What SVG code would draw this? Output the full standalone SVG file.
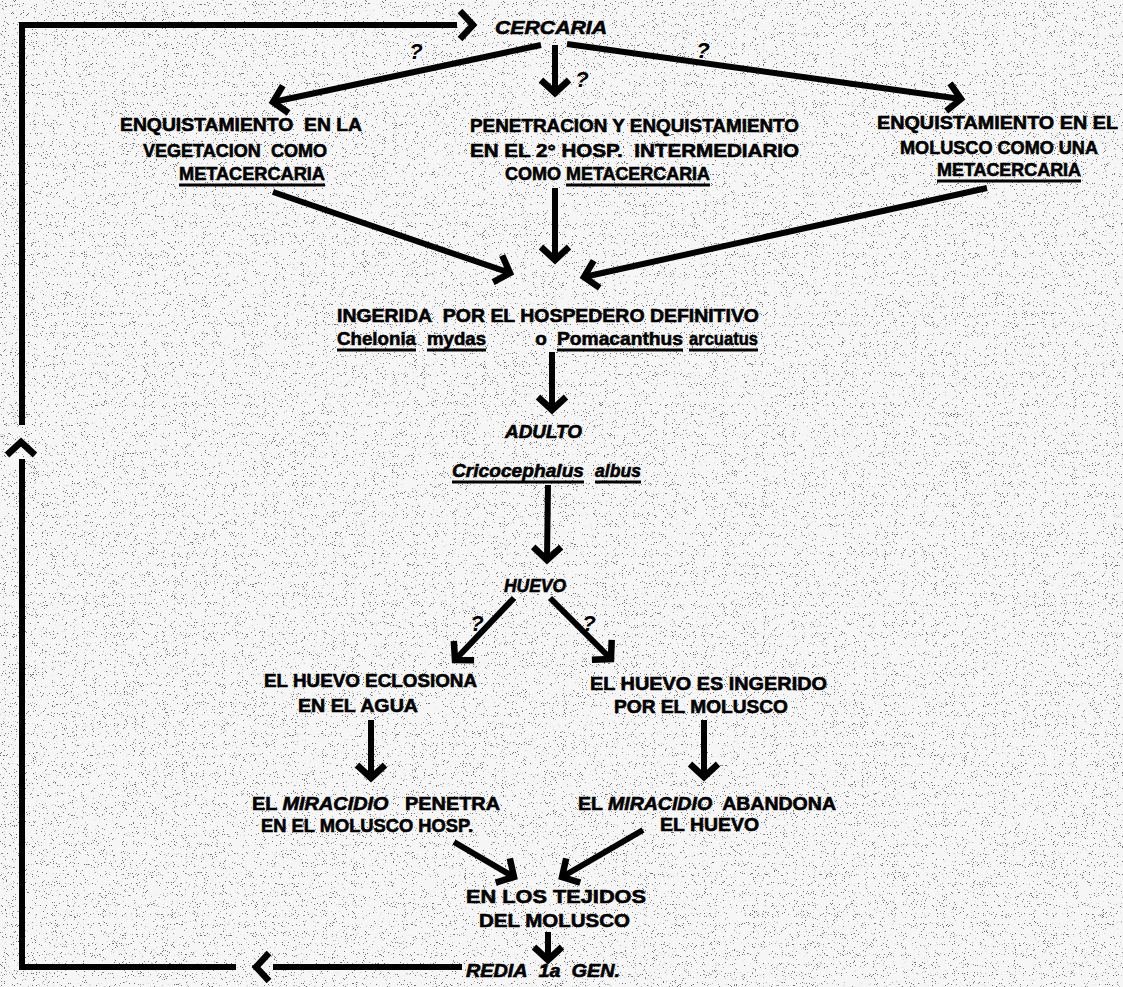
<svg xmlns="http://www.w3.org/2000/svg" width="1123" height="987" viewBox="0 0 1123 987">
<style>
.t{font-family:"Liberation Sans",Arial,sans-serif;font-weight:bold;font-size:19px;fill:#000;stroke:#000;stroke-width:0.6}
.i{font-style:italic}
.q{font-family:"Liberation Sans",Arial,sans-serif;font-weight:bold;font-style:italic;font-size:22px;fill:#000}
.ln{fill:none;stroke:#000;stroke-width:6;stroke-linejoin:miter;stroke-linecap:butt}
.ar{marker-end:url(#ah)}
.gh{fill:none;stroke:none;marker-end:url(#ah)}
.ul{stroke:#000;stroke-width:3}
</style>
<defs>
<marker id="ah" markerUnits="userSpaceOnUse" orient="auto" refX="0" refY="0" markerWidth="1" markerHeight="1" overflow="visible">
<path d="M-13,-14 L0,0 L-13,14" fill="none" stroke="#000" stroke-width="6.5" stroke-linejoin="miter" stroke-miterlimit="10"/>
</marker>
<filter id="spk" x="0" y="0" width="1" height="1">
<feTurbulence type="fractalNoise" baseFrequency="1.1" numOctaves="2" seed="7"/>
<feColorMatrix type="matrix" values="0 0 0 0 0  0 0 0 0 0  0 0 0 0 0  -16 0 0 0 5.3"/>
</filter>
</defs>
<rect width="1123" height="987" fill="#f6f6f6"/>
<rect width="1123" height="987" fill="#000" filter="url(#spk)" opacity="0.55"/>

<g id="connectors">
<path class="ln" d="M457,25 H22 V425"/>
<path class="gh" d="M460,25 L473,25"/>
<path class="gh" d="M21,456 L21,442"/>
<path class="ln" d="M22,459 V967 H236"/>
<path class="gh" d="M272,967 L256,967"/>
<path class="ln" d="M462,967 H273"/>
<path class="ln ar" d="M541,45 L273,102"/>
<path class="ln ar" d="M555,45 L555,93"/>
<path class="ln ar" d="M567,44 L961,99"/>
<path class="ln ar" d="M273,192 L510,273"/>
<path class="ln ar" d="M555,188 L555,260"/>
<path class="ln ar" d="M987,188 L584,277"/>
<path class="ln ar" d="M552,352 L552,410"/>
<path class="ln ar" d="M548,485 L547,560"/>
<path class="ln ar" d="M514,598 L455,660"/>
<path class="ln ar" d="M550,598 L611,659"/>
<path class="ln ar" d="M371,720 L371,778"/>
<path class="ln ar" d="M704,720 L704,777"/>
<path class="ln ar" d="M454,842 L514,877"/>
<path class="ln ar" d="M643,830 L562,877"/>
<path class="ln ar" d="M548,932 L548,960"/>
<text class="q" x="416" y="59" text-anchor="middle">?</text>
<text class="q" x="582" y="87" text-anchor="middle">?</text>
<text class="q" x="703" y="58" text-anchor="middle">?</text>
<text class="q" x="477" y="631" text-anchor="middle">?</text>
<text class="q" x="589" y="631" text-anchor="middle">?</text>
</g>

<g id="n_cercaria">
<text class="t i" x="495" y="34" textLength="112" lengthAdjust="spacingAndGlyphs">CERCARIA</text>
</g>

<g id="n_vegetacion">
<text class="t" x="120" y="131" textLength="242" lengthAdjust="spacingAndGlyphs">ENQUISTAMIENTO&#160; EN LA</text>
<text class="t" x="143" y="157" textLength="184" lengthAdjust="spacingAndGlyphs">VEGETACION&#160; COMO</text>
<text class="t" x="179" y="180" textLength="146" lengthAdjust="spacingAndGlyphs">METACERCARIA</text>
<line class="ul" x1="179" y1="185" x2="325" y2="185"/>
</g>

<g id="n_penetracion">
<text class="t" x="470" y="132" textLength="329" lengthAdjust="spacingAndGlyphs">PENETRACION Y ENQUISTAMIENTO</text>
<text class="t" x="470" y="157" textLength="329" lengthAdjust="spacingAndGlyphs">EN EL 2° HOSP.&#160; INTERMEDIARIO</text>
<text class="t" x="505" y="180" textLength="56" lengthAdjust="spacingAndGlyphs">COMO</text>
<text class="t" x="566" y="180" textLength="144" lengthAdjust="spacingAndGlyphs">METACERCARIA</text>
<line class="ul" x1="566" y1="185" x2="710" y2="185"/>
</g>

<g id="n_molusco">
<text class="t" x="877" y="129" textLength="241" lengthAdjust="spacingAndGlyphs">ENQUISTAMIENTO EN EL</text>
<text class="t" x="900" y="154" textLength="198" lengthAdjust="spacingAndGlyphs">MOLUSCO COMO UNA</text>
<text class="t" x="937" y="176" textLength="144" lengthAdjust="spacingAndGlyphs">METACERCARIA</text>
<line class="ul" x1="937" y1="181" x2="1081" y2="181"/>
</g>

<g id="n_ingerida">
<text class="t" x="337" y="322" textLength="422" lengthAdjust="spacingAndGlyphs">INGERIDA&#160; POR EL HOSPEDERO DEFINITIVO</text>
<text class="t" x="337" y="345" textLength="79" lengthAdjust="spacingAndGlyphs">Chelonia</text>
<text class="t" x="427" y="345" textLength="59" lengthAdjust="spacingAndGlyphs">mydas</text>
<text class="t" x="541" y="345" text-anchor="middle">o</text>
<text class="t" x="557" y="345" textLength="126" lengthAdjust="spacingAndGlyphs">Pomacanthus</text>
<text class="t" x="689" y="345" textLength="69" lengthAdjust="spacingAndGlyphs">arcuatus</text>
<line class="ul" x1="337" y1="350" x2="416" y2="350"/>
<line class="ul" x1="427" y1="350" x2="486" y2="350"/>
<line class="ul" x1="557" y1="350" x2="683" y2="350"/>
<line class="ul" x1="689" y1="350" x2="758" y2="350"/>
</g>

<g id="n_adulto">
<text class="t i" x="505" y="438" textLength="77" lengthAdjust="spacingAndGlyphs">ADULTO</text>
<text class="t i" x="452" y="477" textLength="132" lengthAdjust="spacingAndGlyphs">Cricocephalus</text>
<text class="t i" x="595" y="477" textLength="46" lengthAdjust="spacingAndGlyphs">albus</text>
<line class="ul" x1="452" y1="482" x2="584" y2="482"/>
<line class="ul" x1="595" y1="482" x2="641" y2="482"/>
</g>

<g id="n_huevo">
<text class="t i" x="504" y="592" textLength="62" lengthAdjust="spacingAndGlyphs">HUEVO</text>
</g>

<g id="n_eclosiona">
<text class="t" x="264" y="687" textLength="213" lengthAdjust="spacingAndGlyphs">EL HUEVO ECLOSIONA</text>
<text class="t" x="298" y="712" textLength="120" lengthAdjust="spacingAndGlyphs">EN EL AGUA</text>
</g>

<g id="n_ingerido">
<text class="t" x="590" y="690" textLength="237" lengthAdjust="spacingAndGlyphs">EL HUEVO ES INGERIDO</text>
<text class="t" x="614" y="713" textLength="174" lengthAdjust="spacingAndGlyphs">POR EL MOLUSCO</text>
</g>

<g id="n_penetra">
<text class="t" x="252" y="810" textLength="248" lengthAdjust="spacingAndGlyphs">EL <tspan class="i">MIRACIDIO</tspan>&#160;&#160; PENETRA</text>
<text class="t" x="261" y="832" textLength="212" lengthAdjust="spacingAndGlyphs">EN EL MOLUSCO HOSP.</text>
</g>

<g id="n_abandona">
<text class="t" x="578" y="810" textLength="258" lengthAdjust="spacingAndGlyphs">EL <tspan class="i">MIRACIDIO</tspan>&#160; ABANDONA</text>
<text class="t" x="660" y="831" textLength="99" lengthAdjust="spacingAndGlyphs">EL HUEVO</text>
</g>

<g id="n_tejidos">
<text class="t" x="466" y="903" textLength="180" lengthAdjust="spacingAndGlyphs">EN LOS TEJIDOS</text>
<text class="t" x="479" y="927" textLength="151" lengthAdjust="spacingAndGlyphs">DEL MOLUSCO</text>
</g>

<g id="n_redia">
<text class="t i" x="466" y="977" textLength="154" lengthAdjust="spacingAndGlyphs">REDIA&#160; 1a&#160; GEN.</text>
</g>
</svg>
